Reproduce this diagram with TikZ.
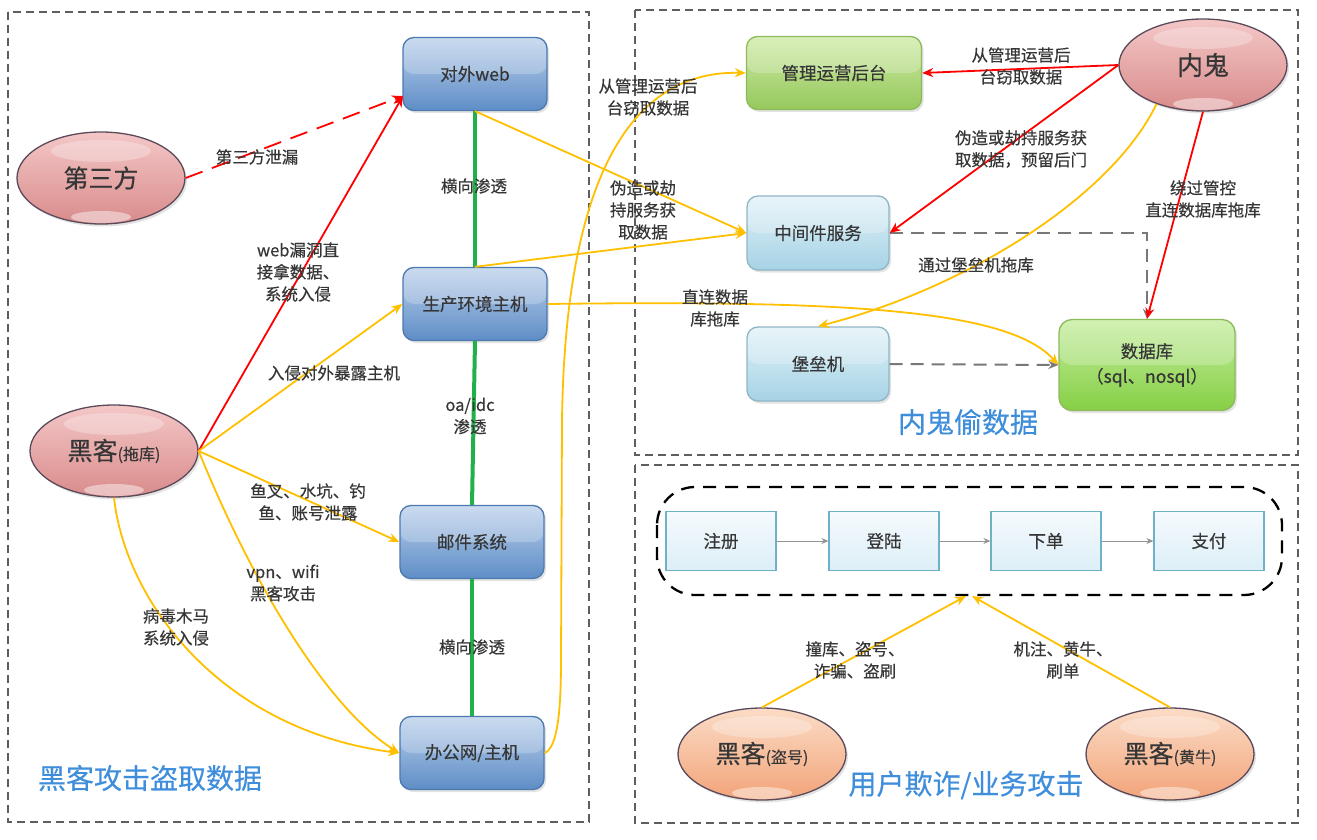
\documentclass[tikz,border=0pt]{standalone}
\usepackage{fontspec}
\setmainfont{Noto Sans CJK SC}[FakeBold=0.4]
\usetikzlibrary{arrows.meta,shapes.geometric,shadows,calc}
\definecolor{txt}{HTML}{363636}
\definecolor{blueT}{HTML}{BCD1EC}
\definecolor{blueD}{HTML}{5E8DC6}
\definecolor{blueB}{HTML}{4C7AB0}
\definecolor{greenT}{HTML}{CFEAA6}
\definecolor{greenD}{HTML}{96C95D}
\definecolor{greenB}{HTML}{8DBA5A}
\definecolor{dbT}{HTML}{C4EE9E}
\definecolor{dbD}{HTML}{86CF46}
\definecolor{lbT}{HTML}{E2F2F8}
\definecolor{lbD}{HTML}{A6D3E5}
\definecolor{lbB}{HTML}{8FB6C6}
\definecolor{pinkT}{HTML}{F4C7C7}
\definecolor{pinkD}{HTML}{D98B8B}
\definecolor{ellB}{HTML}{5A4A5A}
\definecolor{orT}{HTML}{FBDCC7}
\definecolor{orD}{HTML}{F2A378}
\definecolor{procT}{HTML}{F5FAFD}
\definecolor{procD}{HTML}{DCEEF7}
\definecolor{procB}{HTML}{6FB1C6}
\definecolor{arRed}{HTML}{FF0000}
\definecolor{arY}{HTML}{FFC000}
\definecolor{lnGreen}{HTML}{22B04B}
\definecolor{dashGray}{HTML}{787878}
\definecolor{panelGray}{HTML}{5E5E5E}
\definecolor{titleBlue}{HTML}{3F8EDB}
\begin{document}
\begin{tikzpicture}[x=1pt,y=-1pt,
  every node/.style={text=txt},
  panel/.style={draw=panelGray,line width=1.3pt,dash pattern=on 8pt off 5pt},
  procframe/.style={draw=black,line width=2.3pt,dash pattern=on 13pt off 9pt,rounded corners=38pt},
  shadowed/.style={drop shadow={opacity=0.22,shadow xshift=2pt,shadow yshift=-2.5pt}},
  boxfont/.style={font=\fontsize{17.5}{25}\selectfont},
  gloss/.style={path picture={\fill[white,opacity=0.22] (path picture bounding box.north west) rectangle (path picture bounding box.east);}},
  bluebox/.style={rectangle,rounded corners=11pt,draw=blueB,line width=1.3pt,top color=blueT,bottom color=blueD,
    minimum width=144pt,minimum height=73pt,inner sep=0pt,boxfont,gloss,shadowed},
  greenbox/.style={rectangle,rounded corners=11pt,draw=greenB,line width=1.3pt,top color=greenT,bottom color=greenD,
    inner sep=0pt,boxfont,gloss,shadowed},
  dbbox/.style={rectangle,rounded corners=13pt,draw=greenB,line width=1.3pt,top color=dbT,bottom color=dbD,
    inner sep=0pt,boxfont,align=center,gloss,shadowed},
  lbbox/.style={rectangle,rounded corners=11pt,draw=lbB,line width=1.3pt,top color=lbT,bottom color=lbD,
    minimum width=142pt,minimum height=74pt,inner sep=0pt,boxfont,gloss,shadowed},
  procbox/.style={rectangle,draw=procB,line width=1.2pt,top color=procT,bottom color=procD,
    minimum width=110pt,minimum height=59pt,inner sep=0pt,boxfont},
  hl/.style={path picture={
    \fill[white,opacity=0.28] ($(path picture bounding box.north)+(0,19)$) ellipse [x radius=50pt, y radius=11pt];
    \fill[white,opacity=0.45] ($(path picture bounding box.south)+(0,-7)$) ellipse [x radius=30pt, y radius=6pt];}},
  pinkell/.style={ellipse,draw=ellB,line width=1.3pt,top color=pinkT,bottom color=pinkD,
    minimum width=168pt,minimum height=92pt,inner sep=0pt,hl,shadowed},
  orell/.style={ellipse,draw=ellB,line width=1.3pt,top color=orT,bottom color=orD,
    minimum width=168pt,minimum height=92pt,inner sep=0pt,hl,shadowed},
  lbl/.style={font=\fontsize{16.5}{22}\selectfont,align=center,inner sep=0pt},
  title/.style={font=\fontsize{28}{32}\selectfont,text=titleBlue,inner sep=0pt},
  tip/.style={-{Stealth[length=11pt,width=9pt]}},
  redarr/.style={draw=arRed,line width=1.8pt,tip},
  yarr/.style={draw=arY,line width=1.8pt,tip},
  greenln/.style={draw=lnGreen,line width=4pt},
  graydash/.style={draw=dashGray,line width=2pt,dash pattern=on 13pt off 8pt,-{Stealth[length=10pt,width=8pt]}},
  procarr/.style={draw=dashGray!80,line width=1pt,-{Stealth[length=7pt,width=6pt]}}
]
\useasboundingbox (0,0) rectangle (1317,840);
\fill[white] (0,0) rectangle (1317,840);

% panels
\draw[panel] (8,12) rectangle (589,822);
\draw[panel] (635,10) rectangle (1298,455);
\draw[panel] (635,465) rectangle (1298,823);
\draw[procframe] (657,487) rectangle (1282,595);

% left nodes
\node[bluebox] (web) at (475,74) {对外web};
\node[bluebox] (prod) at (475,304) {生产环境主机};
\node[bluebox] (mail) at (472,542) {邮件系统};
\node[bluebox] (office) at (472,753) {办公网/主机};
\node[pinkell] (third) at (101,178) {\fontsize{25}{28}\selectfont 第三方};
\node[pinkell] (hacker) at (114,451) {{\fontsize{25}{28}\selectfont 黑客}{\fontsize{16}{18}\selectfont (拖库)}};

% top right nodes
\node[greenbox,minimum width=175pt,minimum height=73pt] (mgmt) at (834,73) {管理运营后台};
\node[lbbox] (mid) at (818,233) {中间件服务};
\node[lbbox] (bastion) at (818,364) {堡垒机};
\node[dbbox,minimum width=176pt,minimum height=91pt] (db) at (1147,365) {数据库\\（sql、nosql）};
\node[pinkell] (insider) at (1203,65) {\fontsize{26}{28}\selectfont 内鬼};

% bottom right nodes
\node[procbox] (p1) at (721,541) {注册};
\node[procbox] (p2) at (884,541) {登陆};
\node[procbox] (p3) at (1046,541) {下单};
\node[procbox] (p4) at (1209,541) {支付};
\node[orell] (hk2) at (762,754) {{\fontsize{25}{28}\selectfont 黑客}{\fontsize{16}{18}\selectfont (盗号)}};
\node[orell] (hk3) at (1170,754) {{\fontsize{25}{28}\selectfont 黑客}{\fontsize{16}{18}\selectfont (黄牛)}};

\coordinate (webin) at (403,96);
\coordinate (t1) at (966,596);
\coordinate (t2) at (972,596);

% green lateral links
\draw[greenln] (web.south) -- (prod.north);
\draw[greenln] (prod.south) -- (mail.north);
\draw[greenln] (mail.south) -- (office.north);

% left connectors
\draw[redarr,dash pattern=on 18pt off 10pt] (third.east) -- (webin);
\draw[redarr] (hacker.east) -- (webin);
\draw[yarr] (hacker.east) -- (prod.west);
\draw[yarr] (hacker.east) -- (mail.west);
\draw[yarr] (hacker.east) .. controls (255,590) and (330,710) .. (office.west);
\draw[yarr] (hacker.south) .. controls (125,600) and (220,730) .. (office.west);

% cross connectors
\draw[yarr] (web.south) -- (mid.west);
\draw[yarr] (prod.north) -- (mid.west);
\draw[yarr] (prod.east) .. controls (850,300) and (1010,310) .. (db.west);
\draw[yarr] (office.east) .. controls (556,748) and (561,720) .. (561,660) -- (562,420) .. controls (565,200) and (620,70) .. (mgmt.west);

% insider connectors
\draw[graydash] (mid.east) -| (db.north);
\draw[graydash] (bastion.east) -- (db.west);
\draw[redarr] (insider.west) -- (mgmt.east);
\draw[redarr] (insider.west) -- (mid.east);
\draw[redarr] (insider.south) -- (db.north);
\draw[yarr] (insider.220) .. controls (1110,200) and (960,290) .. (bastion.north);

% process
\draw[procarr] (p1.east) -- (p2.west);
\draw[procarr] (p2.east) -- (p3.west);
\draw[procarr] (p3.east) -- (p4.west);
\draw[yarr] (hk2.north) -- (t1);
\draw[yarr] (hk3.north) -- (t2);

% labels
\node[lbl] (l1) at (257,157) {第三方泄漏};
\node[lbl] (l2) at (474,186) {横向渗透};
\node[lbl] (l3) at (298,272) {web漏洞直\\接拿数据、\\系统入侵};
\node[lbl] (l4) at (334,373) {入侵对外暴露主机};
\node[lbl] (l5) at (470,416) {oa/idc\\渗透};
\node[lbl] (l6) at (308,502) {鱼叉、水坑、钓\\鱼、账号泄露};
\node[lbl] (l7) at (283,583) {vpn、wifi\\黑客攻击};
\node[lbl] (l8) at (176,627) {病毒木马\\系统入侵};
\node[lbl] (l9) at (472,647) {横向渗透};
\node[lbl] (l10) at (648,97) {从管理运营后\\台窃取数据};
\node[lbl] (l11) at (643,210) {伪造或劫\\持服务获\\取数据};
\node[lbl] (l12) at (1021,66) {从管理运营后\\台窃取数据};
\node[lbl] (l13) at (1021,149) {伪造或劫持服务获\\取数据，预留后门};
\node[lbl] (l14) at (1203,199) {绕过管控\\直连数据库拖库};
\node[lbl] (l15) at (976,265) {通过堡垒机拖库};
\node[lbl] (l16) at (715,308) {直连数据\\库拖库};
\node[lbl] (l17) at (855,660) {撞库、盗号、\\诈骗、盗刷};
\node[lbl] (l18) at (1063,660) {机注、黄牛、\\刷单};

\node[title] (tt1) at (150,778) {黑客攻击盗取数据};
\node[title] (tt2) at (968,422) {内鬼偷数据};
\node[title] (tt3) at (966,785) {用户欺诈/业务攻击};
\end{tikzpicture}
\end{document}
